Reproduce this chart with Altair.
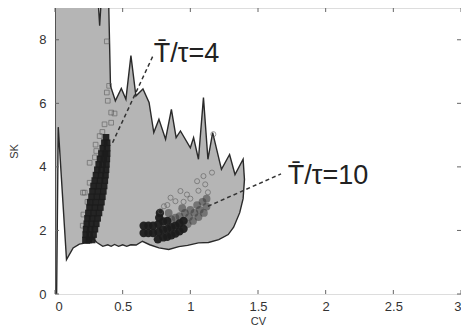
import altair as alt
import pandas as pd

# ---- data ----
x_ticks = [0, 0.5, 1, 1.5, 2, 2.5, 3]
y_ticks = [0, 2, 4, 6, 8]

region_cv = [0.0, 0.012, 0.024, 0.085, 0.134, 0.18, 0.22, 0.256, 0.28, 0.31, 0.353, 0.39, 0.415,
             0.44, 0.47, 0.5, 0.53, 0.56, 0.6, 0.646, 0.7, 0.768, 0.84, 0.915, 0.98, 1.06,
             1.134, 1.21, 1.28, 1.32, 1.365, 1.39, 1.40, 1.39, 1.33, 1.29, 1.23, 1.165, 1.13,
             1.097, 1.06, 1.024, 1.0, 0.927, 0.895, 0.86, 0.817, 0.768, 0.73, 0.695, 0.65,
             0.598, 0.561, 0.524, 0.49, 0.446, 0.41, 0.395, 0.345, 0.33, 0.315, 0.0, 0.0]
region_sk = [0.0, 0.0, 5.25, 1.08, 1.45, 1.57, 1.6, 1.6, 1.75, 1.62, 1.5, 1.55, 1.5,
             1.56, 1.5, 1.55, 1.5, 1.55, 1.54, 1.66, 1.55, 1.45, 1.4, 1.49, 1.53, 1.61,
             1.62, 1.71, 1.87, 2.1, 2.56, 3.0, 3.6, 4.24, 3.76, 4.39, 3.92, 5.08, 4.24,
             6.18, 4.24, 4.92, 4.6, 5.13, 4.92, 5.81, 4.87, 5.5, 5.08, 6.03, 6.45,
             6.23, 7.5, 6.13, 6.47, 6.08, 6.55, 9.5, 9.5, 8.44, 9.5, 9.5, 0.0]

# T/tau = 4 : dense core and sparse squares
c4_core_cv = [0.225, 0.25, 0.275, 0.227, 0.256, 0.285, 0.23, 0.26, 0.295, 0.235, 0.27, 0.305,
              0.24, 0.275, 0.315, 0.247, 0.285, 0.325, 0.255, 0.295, 0.335, 0.26, 0.30, 0.343,
              0.27, 0.31, 0.35, 0.277, 0.317, 0.357, 0.285, 0.325, 0.363, 0.294, 0.333, 0.368,
              0.303, 0.34, 0.373, 0.313, 0.345, 0.377, 0.323, 0.352, 0.38, 0.333, 0.36, 0.383,
              0.343, 0.37, 0.385, 0.353, 0.385, 0.365, 0.385, 0.377]
c4_core_sk = [1.70, 1.70, 1.70, 1.87, 1.87, 1.87, 2.04, 2.04, 2.04, 2.21, 2.21, 2.21,
              2.38, 2.38, 2.38, 2.55, 2.55, 2.55, 2.72, 2.72, 2.72, 2.89, 2.89, 2.89,
              3.06, 3.06, 3.06, 3.23, 3.23, 3.23, 3.40, 3.40, 3.40, 3.57, 3.57, 3.57,
              3.74, 3.74, 3.74, 3.91, 3.91, 3.91, 4.08, 4.08, 4.08, 4.25, 4.25, 4.25,
              4.42, 4.42, 4.42, 4.59, 4.59, 4.76, 4.76, 4.93]
c4_sparse_cv = [0.383, 0.40, 0.383, 0.39, 0.415, 0.44, 0.366, 0.415, 0.33, 0.305,
                0.256, 0.22, 0.256, 0.207, 0.24, 0.21, 0.295, 0.35, 0.205, 0.3]
c4_sparse_sk = [7.95, 6.55, 6.34, 6.08, 5.71, 5.68, 5.34, 5.39, 4.97, 4.5,
                4.13, 3.19, 3.5, 3.19, 2.9, 2.5, 4.3, 5.1, 2.15, 4.7]

# T/tau = 10 : dense core, medium-density part and sparse circles
c10_core_cv = [0.655, 0.655, 0.69, 0.69, 0.725, 0.725, 0.76, 0.765, 0.765, 0.77, 0.775,
               0.80, 0.80, 0.80, 0.83, 0.83, 0.83, 0.86, 0.86, 0.89, 0.89, 0.92, 0.92, 0.95, 0.95]
c10_core_sk = [1.92, 2.15, 1.92, 2.15, 1.92, 2.15, 1.72, 1.95, 2.2, 2.4, 2.55,
               1.78, 2.02, 2.28, 1.8, 2.05, 2.3, 1.85, 2.1, 1.9, 2.15, 1.97, 2.22, 2.05, 2.3]
c10_mid_cv = [0.86, 0.89, 0.92, 0.96, 0.98, 0.99, 1.0, 1.02, 1.03, 1.05, 1.06, 1.07,
              1.09, 1.1, 1.12, 1.12, 0.84, 0.94]
c10_mid_sk = [2.35, 2.4, 2.45, 2.55, 2.2, 2.42, 2.65, 2.3, 2.55, 2.8, 2.42, 2.65,
              2.9, 2.55, 2.75, 3.0, 2.55, 2.7]
c10_sparse_cv = [0.78, 0.805, 0.854, 0.89, 0.927, 0.975, 1.05, 1.097, 1.11, 1.16,
                 1.17, 0.95, 1.0, 1.13, 1.06, 0.83]
c10_sparse_sk = [2.6, 2.76, 3.03, 2.92, 3.24, 3.13, 3.55, 3.71, 3.45, 3.82,
                 5.03, 2.9, 3.0, 3.2, 3.25, 2.8]

# annotations
lead_cv = [0.425, 0.73, 1.13, 1.67]
lead_sk = [4.76, 7.55, 2.76, 3.78]
lead_id = ["a", "a", "b", "b"]
label_cv = [0.73, 1.72]
label_sk = [7.3, 3.45]
label_text = ["T\u0304/\u03c4=4", "T\u0304/\u03c4=10"]

# ---- chart ----
W, H = 406, 286
xs = alt.Scale(domain=[0, 3], nice=False, zero=False)
ys = alt.Scale(domain=[0, 9], nice=False, zero=False)

region = pd.DataFrame({"cv": region_cv, "sk": region_sk, "i": range(len(region_cv))})
poly = alt.Chart(region).mark_line(
    fill="#b5b5b5", stroke="#2a2a2a", strokeWidth=1.4, clip=True, strokeJoin="miter"
).encode(
    x=alt.X("cv:Q", scale=xs,
            axis=alt.Axis(values=x_ticks, format="~g", domain=False, ticks=False, grid=False,
                          labelFontSize=13, labelColor="#333", labelFont="Liberation Sans",
                          labelPadding=6, title="CV", titleFontSize=11, titleFont="Liberation Sans",
                          titleFontWeight="normal", titleColor="#333", titleX=203, titleY=27,
                          titleBaseline="middle", titleAlign="center")),
    y=alt.Y("sk:Q", scale=ys,
            axis=alt.Axis(values=y_ticks, domain=False, ticks=False, grid=False,
                          labelFontSize=13, labelColor="#333", labelFont="Liberation Sans",
                          labelPadding=9, title="SK", titleFontSize=11, titleFont="Liberation Sans",
                          titleFontWeight="normal", titleColor="#333", titleX=-41, titleY=143,
                          titleAngle=-90, titleBaseline="middle", titleAlign="center")),
    order="i:Q",
)

c4core = alt.Chart(pd.DataFrame({"cv": c4_core_cv, "sk": c4_core_sk})).mark_square(
    size=44, color="#1c1c1c", opacity=0.95
).encode(x=alt.X("cv:Q", scale=xs), y=alt.Y("sk:Q", scale=ys))
c4sp = alt.Chart(pd.DataFrame({"cv": c4_sparse_cv, "sk": c4_sparse_sk})).mark_point(
    shape="square", size=22, filled=False, stroke="#555", strokeWidth=0.8
).encode(x=alt.X("cv:Q", scale=xs), y=alt.Y("sk:Q", scale=ys))

c10core = alt.Chart(pd.DataFrame({"cv": c10_core_cv, "sk": c10_core_sk})).mark_circle(
    size=70, color="#1c1c1c", opacity=0.95
).encode(x=alt.X("cv:Q", scale=xs), y=alt.Y("sk:Q", scale=ys))
c10mid = alt.Chart(pd.DataFrame({"cv": c10_mid_cv, "sk": c10_mid_sk})).mark_circle(
    size=60, color="#333", opacity=0.5
).encode(x=alt.X("cv:Q", scale=xs), y=alt.Y("sk:Q", scale=ys))
c10sp = alt.Chart(pd.DataFrame({"cv": c10_sparse_cv, "sk": c10_sparse_sk})).mark_point(
    shape="circle", size=26, filled=False, stroke="#555", strokeWidth=0.8
).encode(x=alt.X("cv:Q", scale=xs), y=alt.Y("sk:Q", scale=ys))

leads = alt.Chart(pd.DataFrame({"cv": lead_cv, "sk": lead_sk, "g": lead_id})).mark_line(
    stroke="#333", strokeWidth=1.5, strokeDash=[4, 3]
).encode(x=alt.X("cv:Q", scale=xs), y=alt.Y("sk:Q", scale=ys), detail="g:N")

labels = alt.Chart(pd.DataFrame({"cv": label_cv, "sk": label_sk, "t": label_text})).mark_text(
    align="left", baseline="alphabetic", fontSize=27, font="Liberation Sans", color="#222"
).encode(x=alt.X("cv:Q", scale=xs), y=alt.Y("sk:Q", scale=ys), text="t:N")

# inward tick marks on all four sides
xt = pd.DataFrame({"v": x_ticks})
yt = pd.DataFrame({"v": y_ticks})
tick_style = dict(color="#666", strokeWidth=1)
tb = alt.Chart(xt).mark_rule(**tick_style).encode(x=alt.X("v:Q", scale=xs), y=alt.value(H), y2=alt.value(H - 4))
tt = alt.Chart(xt).mark_rule(**tick_style).encode(x=alt.X("v:Q", scale=xs), y=alt.value(0), y2=alt.value(4))
tl = alt.Chart(yt).mark_rule(**tick_style).encode(y=alt.Y("v:Q", scale=ys), x=alt.value(0), x2=alt.value(4))
tr = alt.Chart(yt).mark_rule(**tick_style).encode(y=alt.Y("v:Q", scale=ys), x=alt.value(W), x2=alt.value(W - 4))

chart = alt.layer(poly, c4sp, c4core, c10mid, c10core, c10sp, leads, labels, tb, tt, tl, tr).properties(
    width=W, height=H,
    autosize=alt.AutoSizeParams(type="none"),
    padding={"left": 47, "top": 0, "right": 0, "bottom": 31},
).configure_view(stroke="#666", strokeWidth=1).configure(background="white")

chart.save("out.html", embed_options={"renderer": "svg", "actions": False})
